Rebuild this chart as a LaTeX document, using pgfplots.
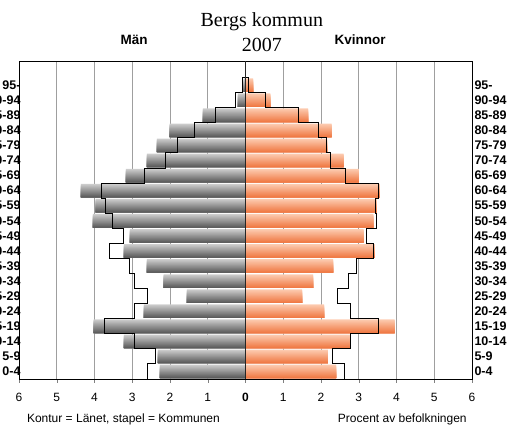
\documentclass[border=0pt]{standalone}
\usepackage{pgfplots}
\usepackage{pgfplotstable}
\pgfplotsset{compat=1.18}
\usepackage{fontspec}
\setmainfont{Liberation Sans}
\newfontfamily\titlefont{Liberation Serif}
\usetikzlibrary{calc}
\definecolor{barG1}{HTML}{CFCFCF}
\definecolor{barG2}{HTML}{5C5C5C}
\definecolor{barO1}{HTML}{FDCDB2}
\definecolor{barO2}{HTML}{F07A45}
% row: 0 = 0-4 ... 19 = 95-; men/women = municipality (%), mc/wc = county contour (%)
\pgfplotstableread{
row men   women mc   wc
0   2.27  2.40  2.61 2.63
1   2.32  2.18  2.39 2.31
2   3.22  2.78  2.94 2.78
3   4.02  3.95  3.74 3.51
4   2.69  2.08  2.94 2.78
5   1.55  1.50  2.61 2.43
6   2.17  1.79  2.94 2.72
7   2.61  2.32  3.08 2.93
8   3.22  3.43  3.61 3.40
9   3.06  3.13  3.23 3.20
10  4.04  3.39  3.52 3.46
11  3.97  3.47  3.72 3.44
12  4.36  3.56  3.82 3.51
13  3.17  3.00  2.68 2.64
14  2.61  2.60  2.13 2.24
15  2.35  2.16  1.81 2.15
16  2.01  2.28  1.35 1.92
17  1.13  1.66  0.79 1.39
18  0.20  0.66  0.26 0.54
19  0.05  0.20  0.07 0.07
}\pyrdata
\begin{document}
\begin{tikzpicture}
\pgfplotsset{
  pyr/.style={
    scale only axis, width=453pt, height=318pt,
    xmin=-6, xmax=6, ymin=-0.5, ymax=20.6,
  }
}
\begin{axis}[pyr, name=ax,
  xtick={-6,-5,-4,-3,-2,-1,0,1,2,3,4,5,6},
  xticklabels={6,5,4,3,2,1,\textbf{0},1,2,3,4,5,6},
  xtick pos=bottom, tick align=outside,
  major tick length=4pt,
  xticklabel style={font=\fontsize{12}{14}\selectfont, yshift=-7pt},
  /pgf/number format/assume math mode=true,
  xmajorgrids, grid style={draw=gray!75, line width=0.6pt},
  ytick={0,...,19},
  yticklabels={0-4,5-9,10-14,15-19,20-24,25-29,30-34,35-39,40-44,45-49,50-54,55-59,60-64,65-69,70-74,75-79,80-84,85-89,90-94,95-},
  yticklabel style={font=\fontsize{12.5}{14}\selectfont\bfseries, xshift=9pt},
  ytick style={draw=none},
  axis line style={black, line width=0.6pt},
  clip=false,
]
% gradient bars: nested bars anchored at the bar bottom, light (full height) -> dark (thin bottom)
\pgfplotsinvokeforeach{0,...,17}{
  \pgfmathsetmacro{\hgt}{0.9*(1-#1/18)}
  \pgfmathsetmacro{\shift}{-0.45+\hgt/2}
  \pgfmathsetmacro{\pct}{100-#1*100/17}
  \edef\doplot{%
  \noexpand\addplot[xbar, bar width=\hgt, bar shift=\shift, draw=none, fill=barG1!\pct!barG2]
    table[x expr=-\noexpand\thisrow{men}, y=row] {\noexpand\pyrdata};
  \noexpand\addplot[xbar, bar width=\hgt, bar shift=\shift, draw=none, fill=barO1!\pct!barO2]
    table[x=women, y=row] {\noexpand\pyrdata};
  }\doplot
}
% county contour, men
\addplot[black, line width=0.9pt, sharp plot, no marks] coordinates {
(-2.61,-0.5) (-2.61,0.5) (-2.39,0.5) (-2.39,1.5) (-2.94,1.5) (-2.94,2.5) (-3.74,2.5) (-3.74,3.5)
(-2.94,3.5) (-2.94,4.5) (-2.61,4.5) (-2.61,5.5) (-2.94,5.5) (-2.94,6.5) (-3.08,6.5) (-3.08,7.5)
(-3.61,7.5) (-3.61,8.5) (-3.23,8.5) (-3.23,9.5) (-3.52,9.5) (-3.52,10.5) (-3.72,10.5) (-3.72,11.5)
(-3.82,11.5) (-3.82,12.5) (-2.68,12.5) (-2.68,13.5) (-2.13,13.5) (-2.13,14.5) (-1.81,14.5) (-1.81,15.5)
(-1.35,15.5) (-1.35,16.5) (-0.79,16.5) (-0.79,17.5) (-0.26,17.5) (-0.26,18.5) (-0.07,18.5) (-0.07,19.5) (0,19.5)};
% county contour, women
\addplot[black, line width=0.9pt, sharp plot, no marks] coordinates {
(2.63,-0.5) (2.63,0.5) (2.31,0.5) (2.31,1.5) (2.78,1.5) (2.78,2.5) (3.51,2.5) (3.51,3.5)
(2.78,3.5) (2.78,4.5) (2.43,4.5) (2.43,5.5) (2.72,5.5) (2.72,6.5) (2.93,6.5) (2.93,7.5)
(3.40,7.5) (3.40,8.5) (3.20,8.5) (3.20,9.5) (3.46,9.5) (3.46,10.5) (3.44,10.5) (3.44,11.5)
(3.51,11.5) (3.51,12.5) (2.64,12.5) (2.64,13.5) (2.24,13.5) (2.24,14.5) (2.15,14.5) (2.15,15.5)
(1.92,15.5) (1.92,16.5) (1.39,16.5) (1.39,17.5) (0.54,17.5) (0.54,18.5) (0.07,18.5) (0.07,19.5) (0,19.5)};
\draw[black!85, line width=1pt] (axis cs:0,-0.5) -- (axis cs:0,20.6);
\node[font=\titlefont\fontsize{20}{22}\selectfont] at (rel axis cs:0.536,1.123) {Bergs kommun};
\node[font=\titlefont\fontsize{20}{22}\selectfont] at (rel axis cs:0.536,1.05) {2007};
\node[font=\fontsize{13.5}{15}\selectfont\bfseries] at (rel axis cs:0.254,1.067) {Män};
\node[font=\fontsize{13.5}{15}\selectfont\bfseries] at (rel axis cs:0.753,1.067) {Kvinnor};
\node[font=\fontsize{12}{14}\selectfont, anchor=west] at (rel axis cs:0.01,-0.127) {Kontur = Länet, stapel = Kommunen};
\node[font=\fontsize{12}{14}\selectfont, anchor=east] at (rel axis cs:0.996,-0.127) {Procent av befolkningen};
\end{axis}
\begin{axis}[pyr,
  axis line style={draw=none},
  xtick=\empty,
  ytick={0,...,19},
  yticklabels={0-4,5-9,10-14,15-19,20-24,25-29,30-34,35-39,40-44,45-49,50-54,55-59,60-64,65-69,70-74,75-79,80-84,85-89,90-94,95-},
  yticklabel pos=right,
  yticklabel style={font=\fontsize{12.5}{14}\selectfont\bfseries, xshift=-1pt},
  ytick style={draw=none},
]
\end{axis}
\pgfresetboundingbox
\path[use as bounding box] ($(ax.south west)+(-19pt,-46pt)$) rectangle ($(ax.north east)+(39pt,61pt)$);
\end{tikzpicture}
\end{document}
